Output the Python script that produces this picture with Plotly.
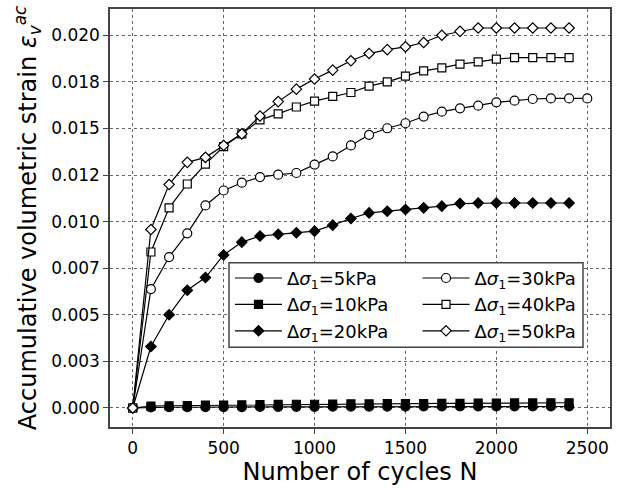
import plotly.graph_objects as go

# Load cycles
cycles = [0, 100, 200, 300, 400, 500, 600, 700, 800, 900, 1000, 1100, 1200,
          1300, 1400, 1500, 1600, 1700, 1800, 1900, 2000, 2100, 2200, 2300, 2400]
cycles_30 = cycles + [2500]

# Accumulative volumetric strain for each deviator stress amplitude
strain_5 = [0, 0.00003, 0.00004, 0.00004, 0.00005, 0.00005, 0.00005, 0.00006, 0.00006,
            0.00006, 0.00006, 0.00007, 0.00007, 0.00007, 0.00007, 0.00007, 0.00008,
            0.00008, 0.00008, 0.00008, 0.00008, 0.00008, 0.00008, 0.00008, 0.00008]
strain_10 = [0, 0.00010, 0.00012, 0.00013, 0.00015, 0.00016, 0.00017, 0.00018, 0.00019,
             0.00020, 0.00020, 0.00021, 0.00022, 0.00022, 0.00023, 0.00024, 0.00024,
             0.00025, 0.00025, 0.00026, 0.00026, 0.00027, 0.00027, 0.00028, 0.00028]
strain_20 = [0, 0.00330, 0.00500, 0.00632, 0.00700, 0.00821, 0.00890, 0.00923, 0.00932,
             0.00940, 0.00949, 0.00981, 0.01017, 0.01047, 0.01056, 0.01065, 0.01074,
             0.01083, 0.01097, 0.01100, 0.01100, 0.01100, 0.01100, 0.01100, 0.01100]
strain_30 = [0, 0.00638, 0.00810, 0.00937, 0.01087, 0.01167, 0.01209, 0.01239, 0.01252,
             0.01261, 0.01306, 0.01350, 0.01409, 0.01466, 0.01501, 0.01528, 0.01564,
             0.01590, 0.01608, 0.01622, 0.01640, 0.01649, 0.01658, 0.01661, 0.01661,
             0.01661]
strain_40 = [0, 0.00837, 0.01074, 0.01202, 0.01309, 0.01403, 0.01471, 0.01546, 0.01578,
             0.01615, 0.01647, 0.01672, 0.01693, 0.01727, 0.01750, 0.01781, 0.01809,
             0.01825, 0.01845, 0.01857, 0.01872, 0.01880, 0.01880, 0.01880, 0.01880]
strain_50 = [0, 0.00958, 0.01199, 0.01318, 0.01345, 0.01409, 0.01471, 0.01567, 0.01644,
             0.01711, 0.01765, 0.01813, 0.01863, 0.01902, 0.01923, 0.01938, 0.01961,
             0.02000, 0.02021, 0.02039, 0.02039, 0.02039, 0.02039, 0.02039, 0.02039]

y_tickvals = [0, 0.0025, 0.005, 0.0075, 0.01, 0.0125, 0.015, 0.0175, 0.02]
y_ticktext = ["0.000", "0.003", "0.005", "0.007", "0.010", "0.012", "0.015", "0.018", "0.020"]
x_tickvals = [0, 500, 1000, 1500, 2000, 2500]

FONT = "DejaVu Sans"

# (amplitude, x, y, symbol, fill, size, legend column)
series = [
    ("5", cycles, strain_5, "circle", "black", 9, "legend"),
    ("10", cycles, strain_10, "square", "black", 8, "legend"),
    ("20", cycles, strain_20, "diamond", "black", 8, "legend"),
    ("30", cycles_30, strain_30, "circle", "white", 9, "legend2"),
    ("40", cycles, strain_40, "square", "white", 8, "legend2"),
    ("50", cycles, strain_50, "diamond", "white", 8, "legend2"),
]

fig = go.Figure()
for amp, xs, ys, sym, fill, size, leg in series:
    fig.add_trace(go.Scatter(
        x=xs, y=ys, mode="lines+markers",
        name=f"Δ<i>σ</i><sub>1</sub>={amp}kPa",
        legend=leg,
        line=dict(color="black", width=1.2),
        marker=dict(symbol=sym, size=size, color=fill,
                    line=dict(color="black", width=1.2)),
    ))

axis_common = dict(
    showline=True, linecolor="#444", linewidth=1.5, mirror=True,
    ticks="outside", ticklen=5, tickwidth=1.2, tickcolor="#444",
    showgrid=True, gridcolor="rgba(0,0,0,0.6)", gridwidth=1, griddash="dot",
    zeroline=False,
    tickfont=dict(family=FONT, size=17, color="black"),
)

fig.update_xaxes(
    range=[-125, 2625], tickvals=x_tickvals,
    title=dict(text="Number of cycles N", font=dict(family=FONT, size=24, color="black"),
               standoff=6),
    **axis_common,
)
fig.update_yaxes(
    range=[-0.00102, 0.02141], tickvals=y_tickvals, ticktext=y_ticktext,
    title=dict(text="Accumulative volumetric strain <i>ε</i><sub><i>v</i></sub><sup><i>ac</i></sup>",
               font=dict(family=FONT, size=24, color="black"), standoff=8),
    **axis_common,
)

# Legend frame shared by both legend columns
fig.add_shape(
    type="rect", xref="paper", yref="paper",
    x0=0.238, x1=0.946, y0=0.1905, y1=0.3929,
    fillcolor="white", line=dict(color="#444", width=1.5), layer="above",
)

legend_common = dict(
    orientation="v", xanchor="left", yanchor="top", y=0.400,
    itemwidth=47, bgcolor="rgba(0,0,0,0)", borderwidth=0,
    font=dict(family=FONT, size=18, color="black"),
)

fig.update_layout(
    width=623, height=489,
    margin=dict(l=110, r=13, t=7, b=62),
    plot_bgcolor="white", paper_bgcolor="white",
    font=dict(family=FONT, color="black"),
    legend=dict(x=0.240, **legend_common),
    legend2=dict(x=0.615, **legend_common),
    showlegend=True,
)

fig.write_html("out.html")
